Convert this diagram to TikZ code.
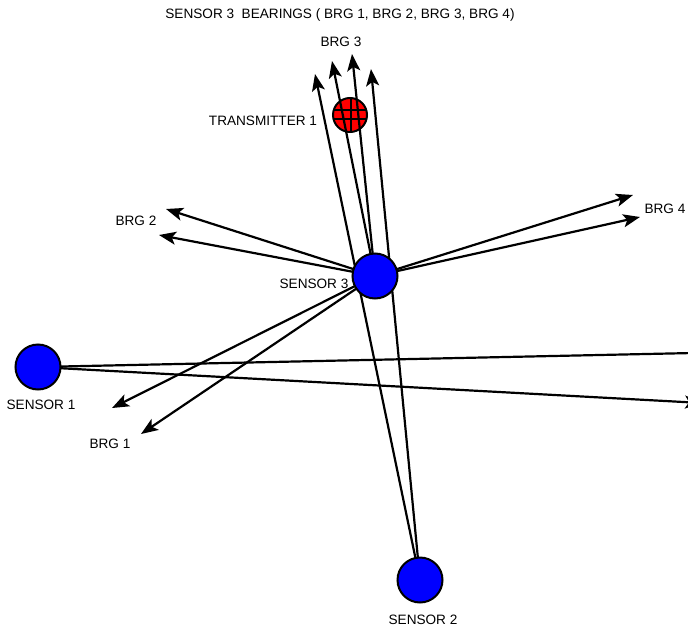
\documentclass[tikz,border=0pt]{standalone}
\usepackage{fontspec}
\setmainfont{Liberation Sans}
\usetikzlibrary{arrows.meta,calc}
\begin{document}
\begin{tikzpicture}[x=1pt,y=-1pt,
  sensor/.style={circle,draw=black,line width=2pt,fill=blue,minimum size=45pt,inner sep=0pt},
  txnode/.style={circle,draw=black,line width=2pt,fill=red,minimum size=34pt,inner sep=0pt},
  bearing/.style={line width=2.2pt,-{Stealth[length=17pt,width=13pt,inset=4pt]}},
  lbl/.style={font=\fontsize{13.6}{16}\selectfont,inner sep=0pt}]
\clip (0,0) rectangle (688,629);
\fill[white] (0,0) rectangle (688,629);

% sensor and transmitter positions
\coordinate (p1) at (38,367);
\coordinate (p2) at (420,580);
\coordinate (p3) at (375,276);

% transmitter symbol (drawn under the bearing lines)
\node[txnode] (tx) at (350,115) {};
\draw[line width=1.8pt] ($(tx.center)+(-16,-5)$) -- ++(32,0);
\draw[line width=1.8pt] ($(tx.center)+(-16,4)$) -- ++(32,0);
\draw[line width=1.8pt] ($(tx.north)+(1,0)$) -- ($(tx.south)+(1,0)$);

% arrow end points
\coordinate (b3a) at (315,74);
\coordinate (b3b) at (332,61);
\coordinate (b3c) at (352,54);
\coordinate (b3d) at (371,69);
\coordinate (b2a) at (166,209);
\coordinate (b2b) at (159,235);
\coordinate (b4a) at (633,195);
\coordinate (b4b) at (640,217);
\coordinate (b1a) at (112,408);
\coordinate (b1b) at (141,434);
\coordinate (e1a) at (740,352);
\coordinate (e1b) at (702,403);

% bearings from sensor 3
\draw[bearing] (p3) -- (b3b);
\draw[bearing] (p3) -- (b3c);
\draw[bearing] (p3) -- (b2a);
\draw[bearing] (p3) -- (b2b);
\draw[bearing] (p3) -- (b4a);
\draw[bearing] (p3) -- (b4b);
\draw[bearing] (p3) -- (b1a);
\draw[bearing] (p3) -- (b1b);
% bearings from sensor 2
\draw[bearing] (p2) -- (b3a);
\draw[bearing] (p2) -- (b3d);
% bearings from sensor 1
\draw[bearing] (p1) -- (e1a);
\draw[bearing] (p1) -- (e1b);

% sensors
\node[sensor] (s1) at (p1) {};
\node[sensor] (s2) at (p2) {};
\node[sensor] (s3) at (p3) {};

% labels
\node[lbl] (title) at (340,15) {SENSOR 3\ \ BEARINGS ( BRG 1, BRG 2, BRG 3, BRG 4)};
\node[lbl] (l3) at (341,42) {BRG 3};
\node[lbl] (ltx) at (263,121) {TRANSMITTER 1};
\node[lbl] (l2) at (136,221) {BRG 2};
\node[lbl] (l4) at (665,209) {BRG 4};
\node[lbl] (ls3) at (314,284) {SENSOR 3};
\node[lbl] (ls1) at (41,405) {SENSOR 1};
\node[lbl] (l1) at (110,444) {BRG 1};
\node[lbl] (ls2) at (423,620) {SENSOR 2};
\end{tikzpicture}
\end{document}
